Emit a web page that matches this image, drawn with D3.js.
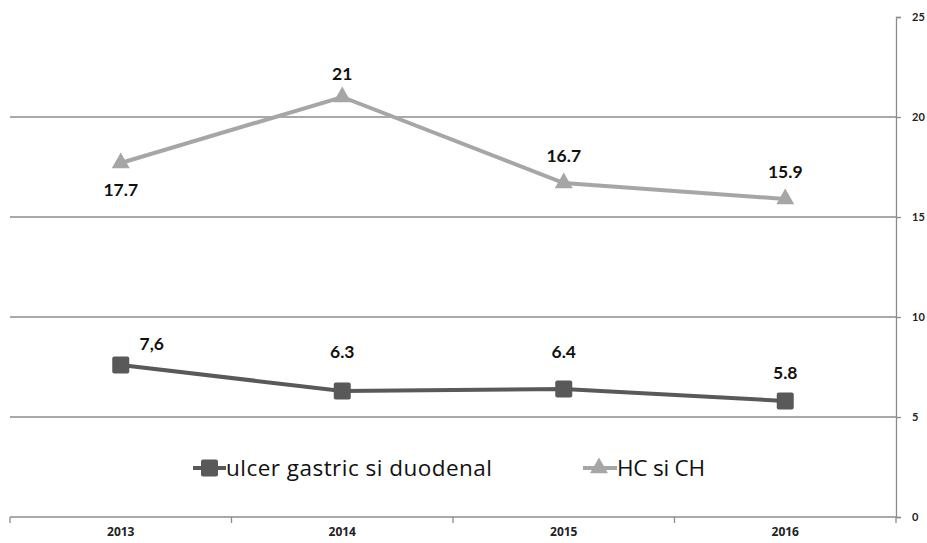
<!DOCTYPE html>
<html>
<head>
<meta charset="utf-8">
<script src="https://cdn.jsdelivr.net/npm/d3@7"></script>
<style>
  html, body { margin: 0; padding: 0; background: #fff; }
  svg { display: block; font-family: Lato, "Liberation Sans", sans-serif; }
</style>
</head>
<body>
<svg id="chart" width="927" height="543"></svg>
<script>
// Years on the category axis
const years = ["2013", "2014", "2015", "2016"];
// Ulcer gastric si duodenal
const ulcerValues = [7.6, 6.3, 6.4, 5.8];
const ulcerLabels = ["7,6", "6.3", "6.4", "5.8"];
// HC si CH
const hcValues = [17.7, 21, 16.7, 15.9];
const hcLabels = ["17.7", "21", "16.7", "15.9"];
// Value axis ticks
const yTicks = [0, 5, 10, 15, 20, 25];

const svg = d3.select("#chart");
const plotLeft = 10, plotRight = 896, plotTop = 17, plotBottom = 517;

const x = d3.scaleBand().domain(years).range([plotLeft, plotRight]);
const y = d3.scaleLinear().domain([0, 25]).range([plotBottom, plotTop]);

const axisColor = "#8c8c8c";

// Horizontal gridlines
svg.append("g")
  .selectAll("line")
  .data(yTicks.filter(t => t > 0 && t < 25))
  .join("line")
  .attr("x1", plotLeft).attr("x2", plotRight)
  .attr("y1", d => y(d)).attr("y2", d => y(d))
  .attr("stroke", axisColor).attr("stroke-width", 1.3);

// Right value axis
const yAxis = svg.append("g")
  .attr("transform", `translate(${plotRight},0)`)
  .call(d3.axisRight(y).tickValues(yTicks).tickSize(5).tickPadding(11));
yAxis.selectAll("path, line").attr("stroke", axisColor).attr("stroke-width", 1.3);
yAxis.selectAll("text").attr("font-size", 11).attr("font-weight", "bold").attr("fill", "#222")
  .attr("font-family", "Lato, 'Liberation Sans', sans-serif");

// Bottom category axis with ticks between categories
const xAxisG = svg.append("g").attr("transform", `translate(0,${plotBottom})`);
xAxisG.append("line")
  .attr("x1", plotLeft).attr("x2", plotRight).attr("y1", 0).attr("y2", 0)
  .attr("stroke", axisColor).attr("stroke-width", 1.3);
const boundaries = years.map(d => x(d)).concat([plotRight]);
xAxisG.selectAll("line.tick")
  .data(boundaries)
  .join("line")
  .attr("class", "tick")
  .attr("x1", d => d).attr("x2", d => d)
  .attr("y1", 0).attr("y2", 6)
  .attr("stroke", axisColor).attr("stroke-width", 1.3);
xAxisG.selectAll("text")
  .data(years)
  .join("text")
  .attr("x", d => x(d) + x.bandwidth() / 2)
  .attr("y", 19)
  .attr("text-anchor", "middle")
  .attr("font-family", "'Open Sans', sans-serif")
  .attr("font-size", 12)
  .attr("font-weight", "bold")
  .attr("fill", "#222")
  .text(d => d);

const cx = d => x(d) + x.bandwidth() / 2;
const line = d3.line().x(d => cx(d.year)).y(d => y(d.value));

const hcData = years.map((yr, i) => ({ year: yr, value: hcValues[i], label: hcLabels[i] }));
const ulcerData = years.map((yr, i) => ({ year: yr, value: ulcerValues[i], label: ulcerLabels[i] }));

const hcColor = "#a6a6a6";
const ulcerColor = "#595959";

// HC si CH series
svg.append("path").datum(hcData)
  .attr("d", line).attr("fill", "none")
  .attr("stroke", hcColor).attr("stroke-width", 4);
const tri = d3.symbol().type(d3.symbolTriangle).size(140);
svg.append("g").selectAll("path")
  .data(hcData).join("path")
  .attr("d", tri)
  .attr("transform", d => `translate(${cx(d.year)},${y(d.value)})`)
  .attr("fill", hcColor);

// Ulcer series
svg.append("path").datum(ulcerData)
  .attr("d", line).attr("fill", "none")
  .attr("stroke", ulcerColor).attr("stroke-width", 4);
svg.append("g").selectAll("rect")
  .data(ulcerData).join("rect")
  .attr("x", d => cx(d.year) - 8.5).attr("y", d => y(d.value) - 8.5)
  .attr("width", 17).attr("height", 17).attr("rx", 2)
  .attr("fill", ulcerColor);

// Data labels
const hcOffsets = [{ dx: 0, dy: 33 }, { dx: 0, dy: -17 }, { dx: 0, dy: -21 }, { dx: 0, dy: -21 }];
svg.append("g").selectAll("text")
  .data(hcData).join("text")
  .attr("x", (d, i) => cx(d.year) + hcOffsets[i].dx)
  .attr("y", (d, i) => y(d.value) + hcOffsets[i].dy)
  .attr("text-anchor", "middle")
  .attr("font-size", 17.5).attr("font-weight", "bold").attr("fill", "#111")
  .text(d => d.label);

const ulcerOffsets = [{ dx: 31, dy: -15 }, { dx: 0, dy: -33 }, { dx: 0, dy: -31 }, { dx: 0, dy: -22 }];
svg.append("g").selectAll("text")
  .data(ulcerData).join("text")
  .attr("x", (d, i) => cx(d.year) + ulcerOffsets[i].dx)
  .attr("y", (d, i) => y(d.value) + ulcerOffsets[i].dy)
  .attr("text-anchor", "middle")
  .attr("font-size", 17.5).attr("font-weight", "bold").attr("fill", "#111")
  .text(d => d.label);

// Legend
const legend = svg.append("g").attr("font-family", "'Open Sans', sans-serif");
const ly = 468;
legend.append("line").attr("x1", 193).attr("x2", 226).attr("y1", ly).attr("y2", ly)
  .attr("stroke", ulcerColor).attr("stroke-width", 4);
legend.append("rect").attr("x", 201).attr("y", ly - 8.5).attr("width", 17).attr("height", 17).attr("rx", 2)
  .attr("fill", ulcerColor);
legend.append("text").attr("x", 226).attr("y", ly + 8)
  .attr("font-size", 22.5).attr("fill", "#111")
  .attr("textLength", 266).attr("lengthAdjust", "spacing")
  .text("ulcer gastric si duodenal");

legend.append("line").attr("x1", 583).attr("x2", 617).attr("y1", ly).attr("y2", ly)
  .attr("stroke", hcColor).attr("stroke-width", 4);
legend.append("path").attr("d", tri)
  .attr("transform", `translate(599,${ly})`).attr("fill", hcColor);
legend.append("text").attr("x", 617).attr("y", ly + 8)
  .attr("font-size", 22.5).attr("fill", "#111")
  .attr("textLength", 88).attr("lengthAdjust", "spacing")
  .text("HC si CH");
</script>
</body>
</html>
